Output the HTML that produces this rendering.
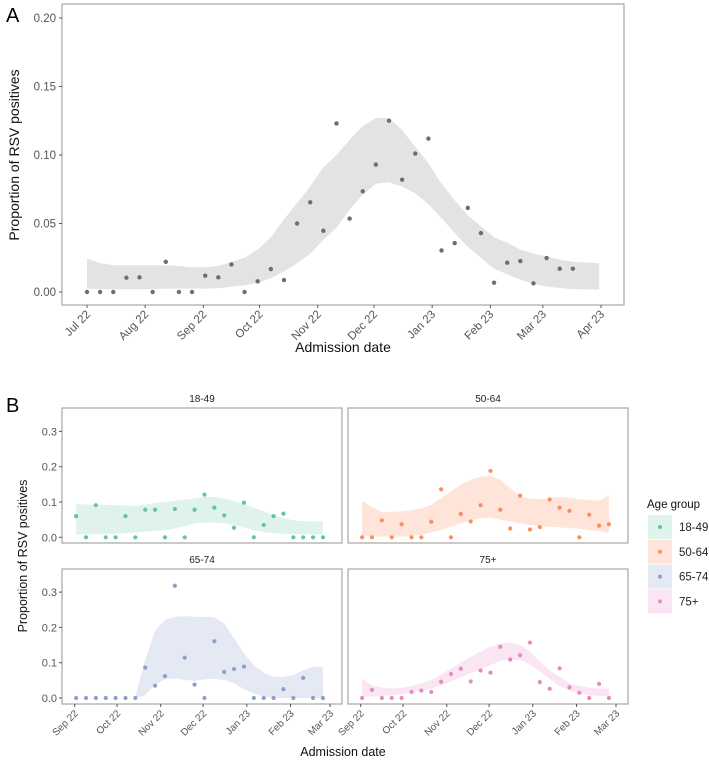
<!DOCTYPE html>
<html><head><meta charset="utf-8">
<style>
body{margin:0;background:#fff;}
svg{display:block;font-family:"Liberation Sans",Arial,sans-serif;}
</style></head>
<body>
<svg id="chart" width="709" height="771" viewBox="0 0 709 771" xmlns="http://www.w3.org/2000/svg"></svg>
<script>
// ---------- Panel A data ----------
const aValues = [0,0,0,0.0104,0.0107,0,0.022,0,0,0.0119,0.0107,0.0201,0,0.0078,0.0167,0.0087,0.050,0.0655,0.0447,0.123,
 0.0536,0.0735,0.093,0.125,0.082,0.101,0.112,0.0303,0.0357,0.0614,0.043,0.0068,0.0214,0.0226,0.0063,0.0248,0.017,0.017];
const aUpper = [0.0245,0.021,0.0195,0.0195,0.0195,0.0195,0.0195,0.019,0.018,0.018,0.019,0.022,0.025,0.031,0.040,0.053,0.065,0.077,0.091,0.100,
 0.111,0.121,0.127,0.127,0.118,0.106,0.094,0.079,0.067,0.056,0.048,0.040,0.036,0.031,0.028,0.026,0.0235,0.022,0.0215,0.021];
const aLower = [0.0025,0.0022,0.002,0.002,0.002,0.0022,0.0025,0.0025,0.0025,0.0025,0.0028,0.004,0.005,0.0065,0.010,0.015,0.021,0.028,0.038,0.047,
 0.060,0.071,0.079,0.080,0.077,0.072,0.064,0.054,0.043,0.033,0.025,0.017,0.013,0.009,0.006,0.004,0.003,0.002,0.002,0.0017];
const aTickLabels = ["Jul 22","Aug 22","Sep 22","Oct 22","Nov 22","Dec 22","Jan 23","Feb 23","Mar 23","Apr 23"];
const aTickDays = [0,31,62,92,123,153,184,215,243,274];
const aYTicks = [0,0.05,0.10,0.15,0.20];

// ---------- Panel B data ----------
const groups = ["18-49","50-64","65-74","75+"];
const colors = ["#66c2a5","#fc8d62","#8da0cb","#e78ac3"];
const v1849 = [0.06,0,0.091,0,0,0.06,0,0.078,0.078,0,0.08,0,0.078,0.121,0.084,0.062,0.027,0.098,0,0.035,0.06,0.067,0,0,0,0];
const v5064 = [0,0,0.048,0,0.037,0,0,0.044,0.136,0,0.066,0.045,0.091,0.188,0.078,0.025,0.118,0.022,0.029,0.107,0.084,0.075,0,0.064,0.033,0.037];
const v6574 = [0,0,0,0,0,0,0,0.086,0.035,0.062,0.318,0.114,0.038,0,0.161,0.074,0.082,0.089,0,0,0,0.025,0,0.057,0,0];
const v75 = [0,0.023,0,0,0,0.017,0.021,0.017,0.046,0.068,0.083,0.047,0.078,0.072,0.145,0.109,0.121,0.157,0.045,0.026,0.084,0.030,0.015,0,0.040,0];
const u1849 = [0.094,0.093,0.093,0.092,0.091,0.090,0.089,0.093,0.097,0.100,0.104,0.107,0.110,0.115,0.114,0.109,0.103,0.094,0.084,0.073,0.062,0.055,0.048,0.046,0.045,0.045];
const l1849 = [0.007,0.008,0.009,0.01,0.01,0.012,0.014,0.016,0.018,0.02,0.025,0.032,0.04,0.042,0.042,0.039,0.035,0.028,0.02,0.015,0.012,0.01,0.009,0.008,0.008,0.008];
const u5064 = [0.103,0.085,0.071,0.072,0.074,0.077,0.082,0.092,0.111,0.130,0.149,0.162,0.172,0.174,0.163,0.139,0.116,0.110,0.108,0.111,0.114,0.111,0.108,0.106,0.104,0.119];
const l5064 = [0.005,0.003,0.002,0.002,0.002,0.004,0.008,0.014,0.021,0.030,0.040,0.048,0.054,0.055,0.050,0.045,0.040,0.035,0.032,0.030,0.028,0.026,0.024,0.021,0.017,0.013];
const u6574 = [null,null,null,null,null,null,0.004,0.108,0.19,0.221,0.23,0.232,0.23,0.23,0.228,0.211,0.169,0.126,0.093,0.072,0.06,0.06,0.065,0.079,0.089,0.087];
const l6574 = [null,null,null,null,null,null,0,0.008,0.037,0.053,0.056,0.051,0.049,0.053,0.054,0.051,0.042,0.025,0.013,0.004,0,0,0,0,0,0];
const u75 = [0.056,0.035,0.030,0.027,0.029,0.034,0.042,0.051,0.066,0.084,0.100,0.117,0.131,0.145,0.155,0.157,0.150,0.131,0.103,0.079,0.060,0.042,0.034,0.029,0.027,0.026];
const l75 = [0.004,0.004,0.006,0.008,0.011,0.015,0.020,0.027,0.036,0.046,0.058,0.070,0.082,0.093,0.105,0.109,0.108,0.095,0.075,0.054,0.034,0.021,0.013,0.008,0.006,0.005];
const bTickLabels = ["Sep 22","Oct 22","Nov 22","Dec 22","Jan 23","Feb 23","Mar 23"];
const bTickDays = [0,30,61,91,122,153,181];
const bYTicks = [0,0.1,0.2,0.3];

const NS="http://www.w3.org/2000/svg";
const svg=document.getElementById('chart');
function mk(tag,attrs,parent){const e=document.createElementNS(NS,tag);for(const k in attrs)e.setAttribute(k,attrs[k]);(parent||svg).appendChild(e);return e;}
function txt(s,attrs,parent){const e=mk('text',attrs,parent);e.textContent=s;return e;}

// ===== Panel A =====
const ax = d => 87 + d*(601-87)/274;
const ay = v => 292 - v*(292-18)/0.2;
const gA=mk('g',{});


let t=txt('A',{x:6,y:22,'font-size':20,fill:'#000'},gA);


{
  let up=aUpper.map((v,i)=>[ax(i*7),ay(v)]);
  let lo=aLower.map((v,i)=>[ax(i*7),ay(v)]).reverse();
  const rib=mk('path',{d:'M'+up.concat(lo).map(p=>p[0].toFixed(1)+','+p[1].toFixed(1)).join('L')+'Z',fill:'#e3e3e3'},gA);
  
  
}
aValues.forEach((v,i)=>{
  const c=mk('circle',{cx:ax(i*7),cy:ay(v),r:2.2,fill:'#6e6e6e'},gA);
  
  
});
let fr=mk('rect',{x:62,y:4,width:562,height:301,fill:'none',stroke:'#a6a6a6','stroke-width':1.2},gA);


aYTicks.forEach(v=>{
  mk('line',{x1:59,x2:62,y1:ay(v),y2:ay(v),stroke:'#555'},gA);
  const l=txt(v.toFixed(2),{x:56,y:ay(v)+4,'text-anchor':'end','font-size':11.5,fill:'#555'},gA);
  
  
});
aTickLabels.forEach((s,i)=>{
  const x=ax(aTickDays[i]);
  mk('line',{x1:x,x2:x,y1:305,y2:308,stroke:'#555'},gA);
  const l=txt(s,{x:x+4,y:315,'text-anchor':'end','font-size':11.5,fill:'#555',transform:`rotate(-45 ${x+4} 315)`},gA);
  
  
});
t=txt('Admission date',{x:343,y:352,'text-anchor':'middle','font-size':14,fill:'#111'},gA);


t=txt('Proportion of RSV positives',{x:19,y:155,'text-anchor':'middle','font-size':14,fill:'#111',transform:'rotate(-90 19 155)'},gA);



// ===== Panel B =====
const gB=mk('g',{});


t=txt('B',{x:6,y:412,'font-size':20,fill:'#000'},gB);


const vals=[v1849,v5064,v6574,v75], ups=[u1849,u5064,u6574,u75], los=[l1849,l5064,l6574,l75];
const fills=["#dff3ec","#fee4d9","#e5e9f4","#fae5f2"];
const panels=[{x0:62,y0:408,zero:537.3},{x0:348,y0:408,zero:537.3},{x0:62,y0:569,zero:698},{x0:348,y0:569,zero:698}];
panels.forEach((p,k)=>{
  const off=p.x0-62;
  const bx=d=>74.7+off+d*(330-74.7)/181;
  const by=v=>p.zero - v*35.3/0.1;
  const g=mk('g',{},gB);
  
  
  const st=txt(groups[k],{x:p.x0+140,y:p.y0-6,'text-anchor':'middle','font-size':10,fill:'#222'},g);
  
  
  const idx=[];ups[k].forEach((v,i)=>{if(v!==null)idx.push(i);});
  const up=idx.map(i=>[bx(1+i*7),by(ups[k][i])]);
  const lo=idx.map(i=>[bx(1+i*7),by(los[k][i])]).reverse();
  const rib=mk('path',{d:'M'+up.concat(lo).map(q=>q[0].toFixed(1)+','+q[1].toFixed(1)).join('L')+'Z',fill:fills[k]},g);
  
  
  vals[k].forEach((v,i)=>{
    const c=mk('circle',{cx:bx(1+i*7),cy:by(v),r:2.1,fill:colors[k]},g);
    
    
  });
  const f=mk('rect',{x:p.x0,y:p.y0,width:280,height:135,fill:'none',stroke:'#a6a6a6','stroke-width':1.2},g);
  
  
  if(k%2===0){
    bYTicks.forEach(v=>{
      mk('line',{x1:p.x0-3,x2:p.x0,y1:by(v),y2:by(v),stroke:'#555'},g);
      const l=txt(v.toFixed(1),{x:p.x0-5,y:by(v)+4,'text-anchor':'end','font-size':11,fill:'#555'},g);
      
      
    });
  }
  if(k>=2){
    bTickLabels.forEach((s,i)=>{
      const x=bx(bTickDays[i]);
      mk('line',{x1:x,x2:x,y1:704,y2:707,stroke:'#555'},g);
      const l=txt(s,{x:x+4,y:714,'text-anchor':'end','font-size':10,fill:'#555',transform:`rotate(-45 ${x+4} 714)`},g);
      
      
    });
  }
});
t=txt('Admission date',{x:343,y:756,'text-anchor':'middle','font-size':12.5,fill:'#111'},gB);


t=txt('Proportion of RSV positives',{x:27,y:556,'text-anchor':'middle','font-size':12.5,fill:'#111',transform:'rotate(-90 27 556)'},gB);



// legend
const lg=mk('g',{},gB);


t=txt('Age group',{x:647,y:508,'font-size':11.5,fill:'#111'},lg);


groups.forEach((gname,k)=>{
  const y=515+k*24.8;
  const e=mk('g',{},lg);
  
  
  mk('rect',{x:648,y:y,width:24,height:24,fill:fills[k]},e);
  mk('circle',{cx:660,cy:y+12,r:2,fill:colors[k]},e);
  txt(gname,{x:679,y:y+16,'font-size':11.5,fill:'#222'},e);
});
</script>
</body></html>
